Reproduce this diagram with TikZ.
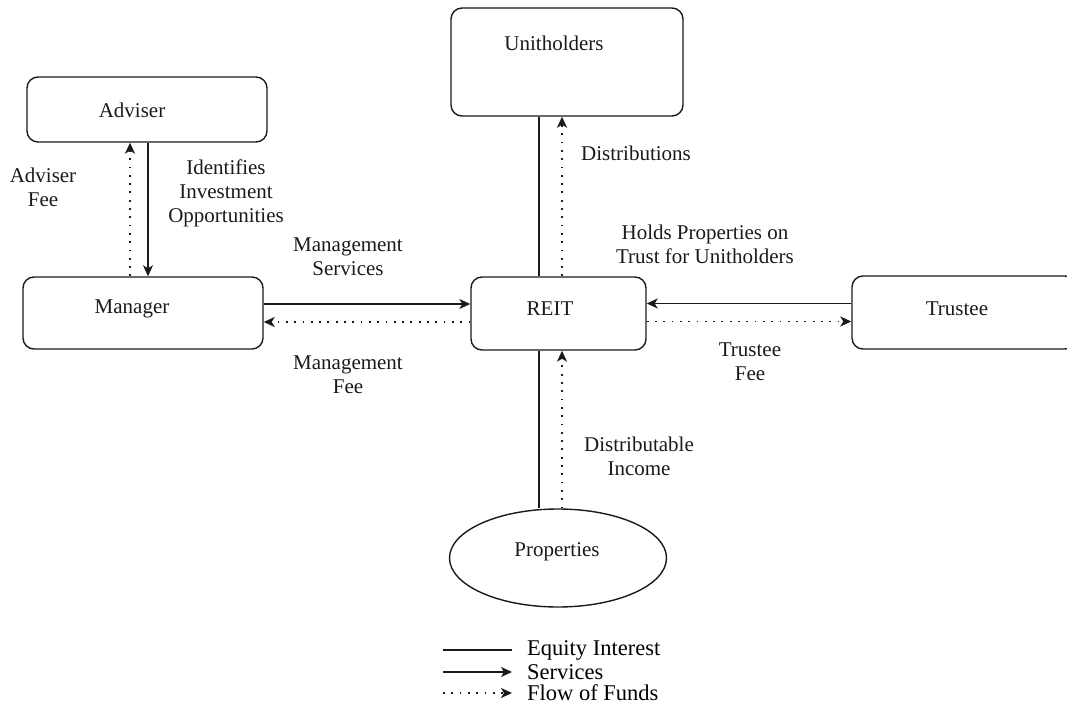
\documentclass[tikz,border=0pt]{standalone}
\usepackage{fontspec}
\setmainfont{Liberation Serif}
\usetikzlibrary{arrows.meta,shapes.geometric,calc}
\definecolor{lnc}{HTML}{1A1A1A}
\definecolor{txc}{HTML}{1A1A1A}
\begin{document}
\begin{tikzpicture}[x=1pt,y=-1pt,
  box/.style={draw=lnc, line width=1.4pt, rounded corners=11pt, inner sep=0pt},
  oval/.style={draw=lnc, line width=1.4pt, ellipse, inner sep=0pt},
  lbl/.style={font=\fontsize{21}{24}\selectfont, text=txc, align=center, inner sep=0pt},
  leg/.style={font=\fontsize{22.5}{24}\selectfont, text=black, anchor=west, inner sep=0pt},
  equity/.style={draw=lnc, line width=1.4pt},
  svc/.style={draw=lnc, line width=1.4pt, -{Stealth[length=11pt,width=10pt,inset=3pt]}},
  fund/.style={svc, line width=1.8pt, dash pattern=on 1.8pt off 6.5pt},
]
\useasboundingbox (0,0) rectangle (1067,708);
\clip (0,0) rectangle (1067,708);

% boxes
\node[box, minimum width=240pt, minimum height=65pt] (adv) at (147,109.5) {};
\node[lbl] (advt) at (132,110) {Adviser};
\node[box, minimum width=240pt, minimum height=72pt] (mgr) at (143,313) {};
\node[lbl] (mgrt) at (132,309) {Manager};
\node[box, minimum width=175pt, minimum height=73pt] (reit) at (558.5,313.5) {};
\node[lbl] (reitt) at (550,309) {REIT};
\node[box, minimum width=232pt, minimum height=108pt] (unit) at (567,62) {};
\node[lbl] (unitt) at (554,43) {Unitholders};
\node[box, minimum width=224pt, minimum height=73pt] (trustee) at (964,312.5) {};
\node[lbl] (trusteet) at (957,309) {Trustee};
\node[oval, minimum width=217pt, minimum height=98pt] (prop) at (558,558) {};
\node[lbl] (propt) at (557,552) {Properties};

% Adviser -- Manager
\draw[svc] ([xshift=1pt]adv.south) -- ([xshift=1pt]adv.south |- mgr.north);
\draw[fund] ([xshift=-17pt]adv.south |- mgr.north) -- ([xshift=-17pt]adv.south);

% Manager -- REIT
\draw[svc] ([yshift=9pt]mgr.east) -- ([yshift=9pt]mgr.east -| reit.west);
\draw[fund] ([yshift=-9pt]mgr.east -| reit.west) -- ([yshift=-9pt]mgr.east);

% Trustee -- REIT
\draw[svc] ([yshift=9pt]trustee.west) -- ([yshift=9pt]trustee.west -| reit.east);
\draw[fund] ([yshift=-9pt]trustee.west -| reit.east) -- ([yshift=-9pt]trustee.west);

% REIT -- Unitholders
\draw[equity] ([xshift=-19.5pt]reit.north) -- ([xshift=-19.5pt]reit.north |- unit.south);
\draw[fund] ([xshift=3.5pt]reit.north) -- ([xshift=3.5pt]reit.north |- unit.south);

% Properties -- REIT
\draw[equity] ([xshift=-19.5pt]reit.south |- prop.north) -- ([xshift=-19.5pt]reit.south);
\draw[fund] ([xshift=3.5pt]reit.south |- prop.north) -- ([xshift=3.5pt]reit.south);

% labels
\node[lbl] (l1) at (43,187.5) {Adviser\\Fee};
\node[lbl] (l2) at (226,193) {Identifies\\Investment\\Opportunities};
\node[lbl] (l3) at (348,257) {Management\\Services};
\node[lbl] (l4) at (348,375) {Management\\Fee};
\node[lbl] (l5) at (636,153) {Distributions};
\node[lbl] (l6) at (705,244.5) {Holds Properties on\\Trust for Unitholders};
\node[lbl] (l7) at (750,361.5) {Trustee\\Fee};
\node[lbl] (l8) at (639,456.5) {Distributable\\Income};

% legend
\coordinate (e1) at (443,650); \coordinate (e2) at (512,650);
\coordinate (s1) at (443,672); \coordinate (s2) at (512,672);
\coordinate (f1) at (443,693); \coordinate (f2) at (512,693);
\draw[equity] (e1) -- (e2);
\draw[svc] (s1) -- (s2);
\draw[fund] (f1) -- (f2);
\node[leg] (t1) at (527,650) {Equity Interest};
\node[leg] (t2) at (527,672) {Services};
\node[leg] (t3) at (527,693) {Flow of Funds};
\end{tikzpicture}
\end{document}
